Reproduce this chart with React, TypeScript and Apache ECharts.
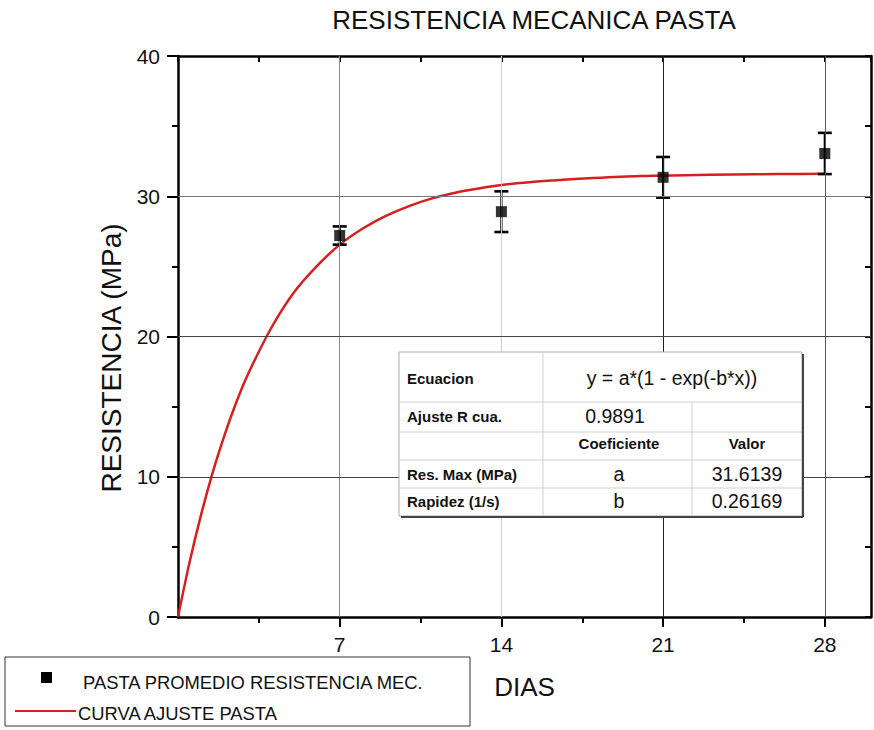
import React, { useEffect, useRef } from "react";
import * as echarts from "echarts";

// ---- data ----
const days = [7, 14, 21, 28];
const meanStrength = [27.2, 28.9, 31.35, 33.05];
const strengthErr = [0.65, 1.45, 1.45, 1.47];

const fitX = [0, 0.5, 1, 1.5, 2, 2.5, 3, 4, 5, 6, 7, 8, 9, 10, 11, 12, 13, 14, 16, 18, 20, 22, 24, 26, 28];
const fitY = [0, 3.9, 7.3, 10.3, 12.9, 15.2, 17.2, 20.5, 23.1, 25.0, 26.55, 27.7, 28.6, 29.3, 29.85, 30.25, 30.55, 30.8, 31.1, 31.3, 31.45, 31.5, 31.55, 31.58, 31.6];

const xMajorTicks = [7, 14, 21, 28];
const xMinorTicks = [3.5, 10.5, 17.5, 24.5];

const titleText = "RESISTENCIA MECANICA PASTA";
const yName = "RESISTENCIA (MPa)";
const xName = "DIAS";
const legendNames = ["PASTA PROMEDIO RESISTENCIA MEC.", "CURVA AJUSTE PASTA"];

const tableRows = [
  ["Ecuacion", "y = a*(1 - exp(-b*x))", ""],
  ["Ajuste R cua.", "0.9891", ""],
  ["", "Coeficiente", "Valor"],
  ["Res. Max (MPa)", "a", "31.6139"],
  ["Rapidez (1/s)", "b", "0.26169"],
];

const FONT = "'Liberation Sans', Arial, sans-serif";
const RED = "#d42020";

export default function App() {
  const ref = useRef<HTMLDivElement>(null);
  useEffect(() => {
    if (!ref.current) return;
    const chart = echarts.init(ref.current, null, { renderer: "svg" });

    const scatterData = days.map((d, i) => [d, meanStrength[i]]);
    const errData = days.map((d, i) => [d, meanStrength[i] - strengthErr[i], meanStrength[i] + strengthErr[i]]);
    const fitData = fitX.map((x, i) => [x, fitY[i]]);

    // table geometry
    const tL = 399, tT = 352, tR = 802, tB = 516;
    const c1 = 543, c2 = 692;
    const rowLines = [402, 432, 460, 488];
    const rowCenters = [378, 416, 443, 474, 501];
    const tableGraphics: any[] = [
      { type: "rect", shape: { x: tL, y: tT, width: tR - tL, height: tB - tT }, style: { fill: "#fff", stroke: "#aaa", lineWidth: 1 }, z: 100 },
      { type: "line", shape: { x1: tR + 1, y1: tT + 2, x2: tR + 1, y2: tB + 1 }, style: { stroke: "#444", lineWidth: 2 }, z: 101 },
      { type: "line", shape: { x1: tL + 2, y1: tB + 1, x2: tR + 1, y2: tB + 1 }, style: { stroke: "#444", lineWidth: 2 }, z: 101 },
      { type: "line", shape: { x1: c1, y1: tT, x2: c1, y2: tB }, style: { stroke: "#d0d0d0", lineWidth: 1 }, z: 101 },
      { type: "line", shape: { x1: c2, y1: rowLines[0], x2: c2, y2: tB }, style: { stroke: "#d0d0d0", lineWidth: 1 }, z: 101 },
      ...rowLines.map((y) => ({ type: "line", shape: { x1: tL, y1: y, x2: tR, y2: y }, style: { stroke: "#d0d0d0", lineWidth: 1 }, z: 101 })),
    ];
    tableRows.forEach((row, r) => {
      const y = rowCenters[r];
      if (row[0]) {
        tableGraphics.push({ type: "text", x: 407, y, style: { text: row[0], font: `bold 15px ${FONT}`, fill: "#111", verticalAlign: "middle", align: "left" }, z: 102 });
      }
      if (r === 0) {
        tableGraphics.push({ type: "text", x: 672, y, style: { text: row[1], font: `19.5px ${FONT}`, fill: "#111", verticalAlign: "middle", align: "center" }, z: 102 });
      } else {
        const bold = r === 2;
        if (row[1]) tableGraphics.push({ type: "text", x: r === 1 ? 615 : 619, y, style: { text: row[1], font: `${bold ? "bold 15px" : "19.5px"} ${FONT}`, fill: "#111", verticalAlign: "middle", align: "center" }, z: 102 });
        if (row[2]) tableGraphics.push({ type: "text", x: 747, y, style: { text: row[2], font: `${bold ? "bold 15px" : "19.5px"} ${FONT}`, fill: "#111", verticalAlign: "middle", align: "center" }, z: 102 });
      }
    });

    const legendGraphics: any[] = [
      { type: "rect", shape: { x: 5, y: 657, width: 465, height: 69 }, style: { fill: "#fff", stroke: "#333", lineWidth: 1 }, z: 100 },
      { type: "rect", shape: { x: 41, y: 672, width: 11, height: 11 }, style: { fill: "#000" }, z: 101 },
      { type: "text", x: 83, y: 682, style: { text: legendNames[0], font: `18.4px ${FONT}`, fill: "#111", verticalAlign: "middle" }, z: 101 },
      { type: "line", shape: { x1: 15, y1: 711, x2: 76, y2: 711 }, style: { stroke: RED, lineWidth: 2 }, z: 101 },
      { type: "text", x: 78, y: 713, style: { text: legendNames[1], font: `18.4px ${FONT}`, fill: "#111", verticalAlign: "middle" }, z: 101 },
    ];

    const gridLine = (v: number, axis: "xAxis" | "yAxis", color: string) => ({ [axis]: v, lineStyle: { color, width: 1, type: "solid" } });

    const option: any = {
      animation: false,
      backgroundColor: "#fff",
      textStyle: { fontFamily: FONT },
      grid: { left: 178, top: 56, width: 693, height: 561, containLabel: false },
      xAxis: [
        {
          type: "value", position: "bottom", min: 0, max: 30, interval: 7,
          name: xName, nameLocation: "middle", nameGap: 57,
          nameTextStyle: { fontSize: 26, color: "#111", fontFamily: FONT },
          axisLine: { show: true, onZero: false, lineStyle: { color: "#000", width: 2.5 } },
          axisTick: { show: true, inside: false, length: 10, customValues: xMajorTicks, lineStyle: { color: "#000", width: 2 } },
          axisLabel: { show: true, customValues: xMajorTicks, fontSize: 21, color: "#111", margin: 17, fontFamily: FONT },
          splitLine: { show: false },
        },
        {
          type: "value", position: "bottom", min: 0, max: 30, interval: 3.5,
          axisLine: { show: false },
          axisTick: { show: true, inside: false, length: 6, customValues: xMinorTicks, lineStyle: { color: "#000", width: 2 } },
          axisLabel: { show: false },
          splitLine: { show: false },
        },
        {
          type: "value", position: "top", min: 0, max: 30, interval: 3.5,
          axisLine: { show: true, onZero: false, lineStyle: { color: "#000", width: 2.5 } },
          axisTick: { show: true, inside: true, length: 6, lineStyle: { color: "#000", width: 2 } },
          axisLabel: { show: false },
          splitLine: { show: false },
        },
      ],
      yAxis: [
        {
          type: "value", position: "left", min: 0, max: 40, interval: 10,
          axisLine: { show: true, onZero: false, lineStyle: { color: "#000", width: 2.5 } },
          axisTick: { show: true, inside: false, length: 11, lineStyle: { color: "#000", width: 2 } },
          minorTick: { show: true, splitNumber: 2, length: 6, lineStyle: { color: "#000", width: 2 } },
          axisLabel: { show: true, fontSize: 21, color: "#111", margin: 18, fontFamily: FONT },
          splitLine: { show: false },
          minorSplitLine: { show: false },
        },
        {
          type: "value", position: "right", min: 0, max: 40, interval: 5,
          axisLine: { show: true, onZero: false, lineStyle: { color: "#000", width: 2.5 } },
          axisTick: { show: true, inside: true, length: 6, lineStyle: { color: "#000", width: 2 } },
          axisLabel: { show: false },
          splitLine: { show: false },
        },
      ],
      series: [
        {
          type: "scatter", xAxisIndex: 0, yAxisIndex: 0, z: 1, silent: true,
          data: scatterData, symbolSize: 0, itemStyle: { opacity: 0 },
          markLine: {
            silent: true, symbol: "none", label: { show: false }, animation: false,
            data: [
              gridLine(7, "xAxis", "#8a8a8a"),
              gridLine(14, "xAxis", "#cfcfcf"),
              gridLine(21, "xAxis", "#222"),
              gridLine(28, "xAxis", "#555"),
              gridLine(10, "yAxis", "#444"),
              gridLine(20, "yAxis", "#444"),
              gridLine(30, "yAxis", "#777"),
            ],
          },
        },
        {
          type: "line", xAxisIndex: 0, yAxisIndex: 0, z: 3, data: fitData,
          showSymbol: false, smooth: 0.3, lineStyle: { color: RED, width: 2.5 }, itemStyle: { color: RED },
        },
        {
          type: "custom", xAxisIndex: 0, yAxisIndex: 0, z: 4, data: errData,
          encode: { x: 0, y: [1, 2] },
          renderItem: (params: any, api: any) => {
            const x = api.value(0);
            const lo = api.coord([x, api.value(1)]);
            const hi = api.coord([x, api.value(2)]);
            const h = 7;
            const st = { stroke: "#000", lineWidth: 2.2 };
            return {
              type: "group",
              children: [
                { type: "line", shape: { x1: hi[0], y1: hi[1], x2: lo[0], y2: lo[1] }, style: st },
                { type: "line", shape: { x1: hi[0] - h, y1: hi[1], x2: hi[0] + h, y2: hi[1] }, style: { ...st, lineWidth: 2.6 } },
                { type: "line", shape: { x1: lo[0] - h, y1: lo[1], x2: lo[0] + h, y2: lo[1] }, style: { ...st, lineWidth: 2.6 } },
              ],
            };
          },
        },
        {
          type: "scatter", xAxisIndex: 0, yAxisIndex: 0, z: 5, data: scatterData,
          symbol: "rect", symbolSize: 11, itemStyle: { color: "#000" },
        },
      ],
      graphic: [
        { type: "text", x: 534, y: 20, style: { text: titleText, font: `26px ${FONT}`, fill: "#111", align: "center", verticalAlign: "middle" }, z: 100 },
        { type: "text", x: 111, y: 358, rotation: Math.PI / 2, style: { text: yName, font: `28px ${FONT}`, fill: "#111", align: "center", verticalAlign: "middle" }, z: 100 },
        ...tableGraphics,
        ...legendGraphics,
      ],
    };
    chart.setOption(option);
    return () => chart.dispose();
  }, []);

  return <div ref={ref} style={{ position: "fixed", left: 0, top: 0, width: 874, height: 730 }} />;
}
